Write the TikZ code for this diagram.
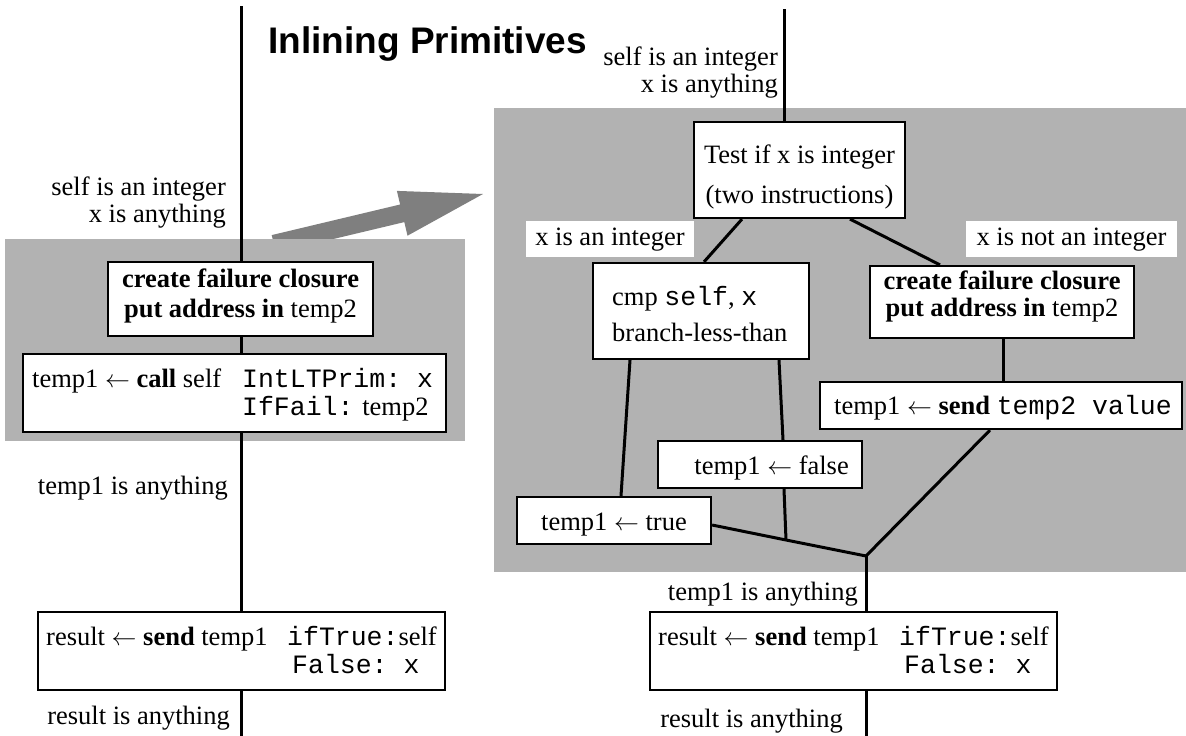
\documentclass[tikz,border=0pt]{standalone}
\usepackage{fontspec}
\setmainfont{Liberation Serif}
\setsansfont{Liberation Sans}
\setmonofont{Liberation Mono}
\usetikzlibrary{calc}
\definecolor{regiongray}{HTML}{B2B2B2}
\definecolor{arrowgray}{HTML}{7F7F7F}
\begin{document}
\begin{tikzpicture}[x=1pt,y=-1pt,
  region/.style={fill=regiongray,draw=none},
  box/.style={draw=black,line width=2.2pt,fill=white,inner sep=0pt},
  conn/.style={line width=3pt},
  txt/.style={inner sep=0pt,font=\fontsize{26.5}{#1}\selectfont},
  txt/.default=30,
  wlab/.style={fill=white,inner sep=0pt,minimum height=36pt,font=\fontsize{26.5}{30}\selectfont},
  titlestyle/.style={inner sep=0pt,font=\fontsize{37}{40}\selectfont\sffamily\bfseries}]
\useasboundingbox (0,0) rectangle (1186,736);

% big grey arrow (partly hidden by the left region)
\fill[arrowgray] (271.7,235.1) -- (400.1,204.5) -- (396.9,190.9) -- (483,194)
  -- (407.5,235.7) -- (404.3,222.1) -- (275.9,252.7) -- cycle;

% shaded regions
\fill[region] (5,239) rectangle (465,441);
\fill[region] (494,108) rectangle (1186,572);

% title
\node[titlestyle,anchor=base west] (title) at (268,53) {Inlining Primitives};

% free ends
\coordinate (top1) at (241,6);
\coordinate (bot1) at (241,736);
\coordinate (top2) at (784,9);
\coordinate (merge) at (866,556);
\coordinate (bot2) at (866,736);
\coordinate (j1) at (786,540);

% boxes
\node[box,minimum width=265,minimum height=74] (create1) at (240.5,299) {};
\node[box,minimum width=423,minimum height=78] (call) at (234.5,393) {};
\node[box,minimum width=407,minimum height=78] (result1) at (241.5,651) {};
\node[box,minimum width=211,minimum height=96] (test) at (799.5,170) {};
\node[box,minimum width=216,minimum height=96] (cmp) at (701,311) {};
\node[box,minimum width=264,minimum height=72] (create2) at (1002,302) {};
\node[box,minimum width=362,minimum height=47] (send) at (1001,405.5) {};
\node[box,minimum width=204,minimum height=47] (false) at (760,464.5) {};
\node[box,minimum width=194,minimum height=47] (true) at (614,520.5) {};
\node[box,minimum width=407,minimum height=78] (result2) at (853.5,651) {};

% connectors, left column
\draw[conn] (top1) -- (top1 |- create1.north);
\draw[conn] (top1 |- create1.south) -- (top1 |- call.north);
\draw[conn] (top1 |- call.south) -- (top1 |- result1.north);
\draw[conn] (top1 |- result1.south) -- (bot1);

% connectors, right column
\draw[conn] (top2) -- (top2 |- test.north);
\draw[conn] ([xshift=-57.5pt]test.south) -- ([xshift=3pt]cmp.north);
\draw[conn] ([xshift=50.5pt]test.south) -- ([xshift=-62pt]create2.north);
\draw[conn] ([xshift=1pt]create2.south) -- ([xshift=2pt]send.north);
\draw[conn] ([xshift=-71pt]cmp.south) -- ([xshift=7pt]true.north);
\draw[conn] ([xshift=78pt]cmp.south) -- ([xshift=23pt]false.north);
\draw[conn] ([xshift=24pt]false.south) -- (j1);
\draw[conn,line join=round] ([yshift=-4.5pt]true.east) -- (j1) -- (merge);
\draw[conn] ([xshift=-11pt]send.south) -- (merge);
\draw[conn] (merge) -- (merge |- result2.north);
\draw[conn] (merge |- result2.south) -- (bot2);

% texts in boxes
\node[txt=30,align=center] (create1t) at (240.5,296)
  {\strut\textbf{create failure closure}\\\strut\textbf{put address in} temp2};
\node[txt=26,align=left,anchor=west] (callt) at (32,396)
  {\strut\makebox[210pt][l]{temp1 $\leftarrow$ \textbf{call} self}\texttt{IntLTPrim: x}\\
   \strut\hspace*{210pt}\texttt{IfFail:} temp2};
\node[txt=28,align=left,anchor=west] (result1t) at (46,654)
  {\strut\makebox[241pt][l]{result $\leftarrow$ \textbf{send} temp1}\texttt{ifTrue:}self\\
   \strut\hspace*{246pt}\texttt{False:\ x}};
\node[txt=40,align=center] (testt) at (799.5,175)
  {\strut Test if x is integer\\\strut (two instructions)};
\node[txt=36,align=left,anchor=west] (cmpt) at (612,316)
  {\strut cmp \texttt{self}, \texttt{x}\\\strut branch-less-than};
\node[txt=27,align=center] (create2t) at (1002,297.5)
  {\strut\textbf{create failure closure}\\\strut\textbf{put address in} temp2};
\node[txt,anchor=west] (sendt) at (834,408)
  {\strut temp1 $\leftarrow$ \textbf{send} \texttt{temp2 value}};
\node[txt,anchor=east] (falset) at (849,468) {\strut temp1 $\leftarrow$ false};
\node[txt] (truet) at (614,524) {\strut temp1 $\leftarrow$ true};
\node[txt=28,align=left,anchor=west] (result2t) at (658,654)
  {\strut\makebox[241pt][l]{result $\leftarrow$ \textbf{send} temp1}\texttt{ifTrue:}self\\
   \strut\hspace*{246pt}\texttt{False:\ x}};

% free labels
\node[txt=24,align=right,anchor=east] (lab1) at (226,203)
  {\strut self is an integer\\\strut x is anything};
\node[txt=25,align=right,anchor=east] (lab2) at (778,73.5)
  {\strut self is an integer\\\strut x is anything};
\node[txt,anchor=east] (lab3) at (228,488) {\strut temp1 is anything};
\node[txt,anchor=east] (lab4) at (230,718) {\strut result is anything};
\node[txt,anchor=east] (lab5) at (858,594) {\strut temp1 is anything};
\node[txt,anchor=east] (lab6) at (843,721) {\strut result is anything};
\node[wlab,minimum width=168] (isint) at (610,239) {\strut x is an integer};
\node[wlab,minimum width=211] (notint) at (1071.5,239) {\strut x is not an integer};
\end{tikzpicture}
\end{document}
